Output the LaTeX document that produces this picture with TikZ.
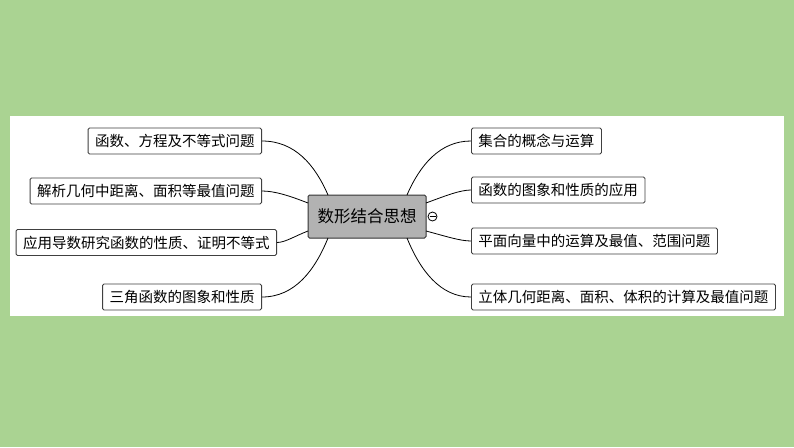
\documentclass[tikz,border=0pt]{standalone}
\usepackage{fontspec}
\setmainfont{Noto Sans CJK SC}
\begin{document}
\begin{tikzpicture}[x=1pt,y=-1pt,
  leaf/.style={draw=black!75,fill=white,rounded corners=1.5pt,minimum height=26pt,inner xsep=7pt,font=\fontsize{14.5}{15}\selectfont,line width=0.9pt},
  link/.style={line width=0.8pt,black}]
\fill[fill={rgb,255:red,170;green,211;blue,146}] (0,0) rectangle (794,447);
\fill[white] (10,116) rectangle (784,316);
\node[draw=black!80,fill={rgb,255:red,178;green,178;blue,178},rounded corners=1.5pt,line width=1pt,minimum width=118pt,minimum height=43pt,font=\fontsize{16.5}{17}\selectfont] (c) at (367,216.5) {数形结合思想};
\draw[line width=0.8pt] (432.5,216.5) circle (4.5pt);
\draw[line width=0.8pt] (429.5,216.5) -- (435.5,216.5);
\node[leaf,anchor=east] (l1) at (262,141) {函数、方程及不等式问题};
\node[leaf,anchor=east] (l2) at (262,191) {解析几何中距离、面积等最值问题};
\node[leaf,anchor=east] (l3) at (277,242.5) {应用导数研究函数的性质、证明不等式};
\node[leaf,anchor=east] (l4) at (262,297) {三角函数的图象和性质};
\node[leaf,anchor=west] (r1) at (471,141) {集合的概念与运算};
\node[leaf,anchor=west] (r2) at (471,190) {函数的图象和性质的应用};
\node[leaf,anchor=west] (r3) at (471,241) {平面向量中的运算及最值、范围问题};
\node[leaf,anchor=west] (r4) at (471,297) {立体几何距离、面积、体积的计算及最值问题};
\coordinate (ctl) at (328,195); \coordinate (ctr) at (407,195);
\coordinate (cbl) at (328,238); \coordinate (cbr) at (407,238);
\coordinate (cwl) at (308,203); \coordinate (cel) at (426,203);
\coordinate (cwb) at (308,231); \coordinate (ceb) at (426,231);
\draw[link] (ctl) .. controls (315,165) and (295,141) .. (l1.east);
\draw[link] (cwl) .. controls (290,196) and (275,191) .. (l2.east);
\draw[link] (cwb) .. controls (295,236) and (285,242.5) .. (l3.east);
\draw[link] (cbl) .. controls (315,270) and (295,297) .. (l4.east);
\draw[link] (ctr) .. controls (420,165) and (440,141) .. (r1.west);
\draw[link] (cel) .. controls (445,196) and (460,190) .. (r2.west);
\draw[link] (ceb) .. controls (445,236) and (460,241) .. (r3.west);
\draw[link] (cbr) .. controls (420,270) and (440,297) .. (r4.west);
\end{tikzpicture}
\end{document}
